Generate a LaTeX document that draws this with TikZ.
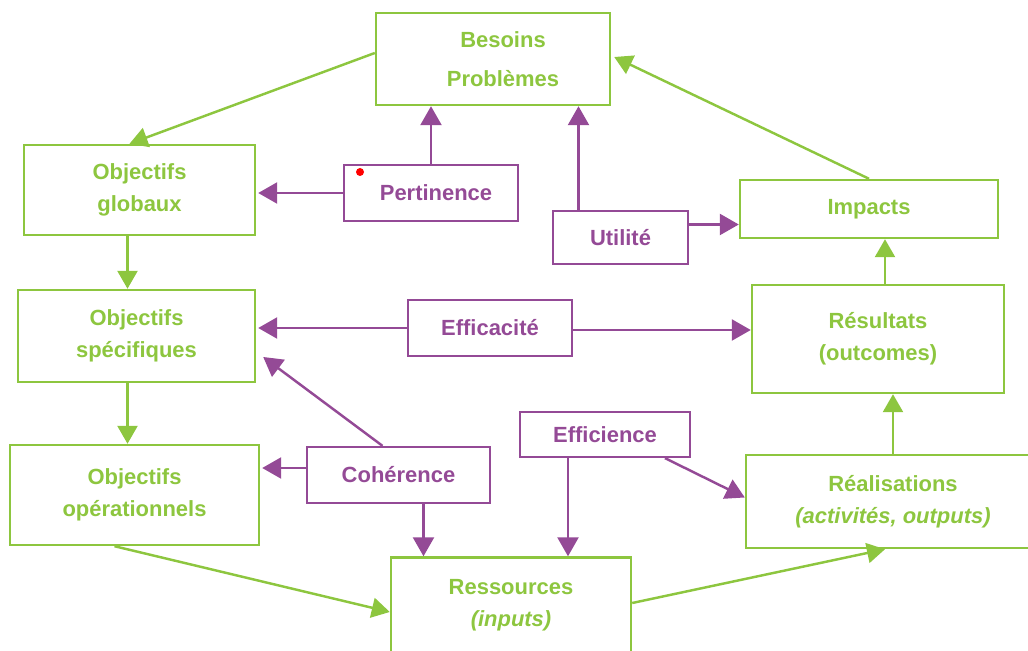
\documentclass[tikz,border=0pt]{standalone}
\usepackage{fontspec}
\setmainfont{Liberation Sans}
\usepackage{tikz}
\usetikzlibrary{
    arrows.meta,
    calc
}
\definecolor{vertc}{RGB}{141,198,63}
\definecolor{violc}{RGB}{148,74,150}
\tikzset
{
  gbox/.style={draw=vertc,line width=1.4pt,text=vertc,inner sep=0pt,align=center,
    font=\fontsize{12.5}{18}\selectfont\bfseries},
  pbox/.style={draw=violc,line width=1.3pt,text=violc,inner sep=0pt,align=center,
    font=\fontsize{12.5}{18}\selectfont\bfseries},
  garrow/.style={draw=vertc,line width=1.4pt,-{Triangle[length=0.36cm,width=0.4cm]}},
  parrow/.style={draw=violc,line width=1.4pt,-{Triangle[length=0.38cm,width=0.42cm]}}
}

\begin{document}
\begin{tikzpicture}[x=0.02cm,y=-0.02cm]
        \useasboundingbox (0,0) rectangle (1028,651);

        % Green boxes
        \node[gbox,minimum width=4.68cm,minimum height=1.84cm] (besoins) at (493,59) {\hspace*{0.4cm}Besoins\\[4pt]\hspace*{0.4cm}Problèmes};
        \node[gbox,minimum width=4.62cm,minimum height=1.8cm] (glob) at (139.5,190) {Objectifs\\globaux};
        \node[gbox,minimum width=4.74cm,minimum height=1.84cm] (spec) at (136.5,336) {Objectifs\\spécifiques};
        \node[gbox,minimum width=4.98cm,minimum height=2cm] (oper) at (134.5,495) {Objectifs\\opérationnels};
        \node[gbox,minimum width=4.8cm,minimum height=1.9cm] (ress) at (511,605) {Ressources\\\itshape(inputs)};
        \node[gbox,minimum width=5.88cm,minimum height=1.86cm] (real) at (893,501.5) {Réalisations\\\itshape(activités, outputs)};
        \node[gbox,minimum width=5.04cm,minimum height=2.16cm] (resu) at (878,339) {Résultats\\(outcomes)};
        \node[gbox,minimum width=5.16cm,minimum height=1.16cm] (imp) at (869,209) {Impacts};

        % Purple boxes
        \node[pbox,minimum width=3.48cm,minimum height=1.12cm] (pert) at (431,193) {\hspace*{0.2cm}Pertinence};
        \node[pbox,minimum width=2.7cm,minimum height=1.06cm] (util) at (620.5,237.5) {Utilité};
        \node[pbox,minimum width=3.28cm,minimum height=1.12cm] (effa) at (490,328) {Efficacité};
        \node[pbox,minimum width=3.66cm,minimum height=1.12cm] (cohe) at (398.5,475) {Cohérence};
        \node[pbox,minimum width=3.4cm,minimum height=0.9cm] (effi) at (605,434.5) {Efficience};

        % red dot
        \fill[red] (360,172) circle[radius=0.08cm];

        % Helper points
        \coordinate (b1) at ($(besoins.west)+(0,-6)$);
        \coordinate (g1) at ($(glob.north)+(-10,0)$);
        \coordinate (g2) at ($(glob.south)+(-12,0)$);
        \coordinate (s2) at ($(spec.south)+(-9,0)$);
        \coordinate (o1) at ($(oper.south)+(-20,0)$);
        \coordinate (r1) at ($(ress.west)+(0,7)$);
        \coordinate (r2) at ($(ress.east)+(0,-2)$);
        \coordinate (a1) at ($(real.south)+(-8,0)$);
        \coordinate (t1) at ($(resu.north)+(7,0)$);
        \coordinate (u1) at ($(util.north)+(-42,0)$);
        \coordinate (u2) at ($(util.east)+(0,-13)$);
        \coordinate (e1) at ($(effa.east)+(0,2)$);
        \coordinate (c1) at ($(cohe.north)+(-16,0)$);
        \coordinate (c2) at ($(spec.east)+(7,21)$);
        \coordinate (c3) at ($(cohe.west)+(0,-7)$);
        \coordinate (c4) at ($(cohe.south)+(25,0)$);
        \coordinate (f1) at ($(effi.south)+(-37,0)$);
        \coordinate (f2) at ($(effi.south)+(60,0)$);
        \coordinate (a2) at ($(real.west)+(0,-4)$);

        % Green connectors
        \draw[garrow] (b1) -- (g1);
        \draw[garrow] (imp.north) -- ($(besoins.east)+(3,-2)$);
        \draw[garrow] (g2) -- (g2 |- spec.north);
        \draw[garrow] (s2) -- (s2 |- oper.north);
        \draw[garrow] (o1) -- (r1);
        \draw[garrow] (r2) -- (a1);
        \draw[garrow] (real.north) -- (real.north |- resu.south);
        \draw[garrow] (t1) -- (t1 |- imp.south);

        % Purple connectors
        \draw[parrow] (pert.west) -- ($(pert.west -| glob.east)+(2,0)$);
        \draw[parrow] (pert.north) -- (pert.north |- besoins.south);
        \draw[parrow] (u1) -- (u1 |- besoins.south);
        \draw[parrow] (u2) -- (u2 -| imp.west);
        \draw[parrow] (effa.west) -- ($(effa.west -| spec.east)+(2,0)$);
        \draw[parrow] (e1) -- (e1 -| resu.west);
        \draw[parrow] (c1) -- (c2);
        \draw[parrow] (c3) -- ($(c3 -| oper.east)+(2,0)$);
        \draw[parrow] (c4) -- (c4 |- ress.north);
        \draw[parrow] (f1) -- (f1 |- ress.north);
        \draw[parrow] (f2) -- (a2);
    \end{tikzpicture}
\end{document}
